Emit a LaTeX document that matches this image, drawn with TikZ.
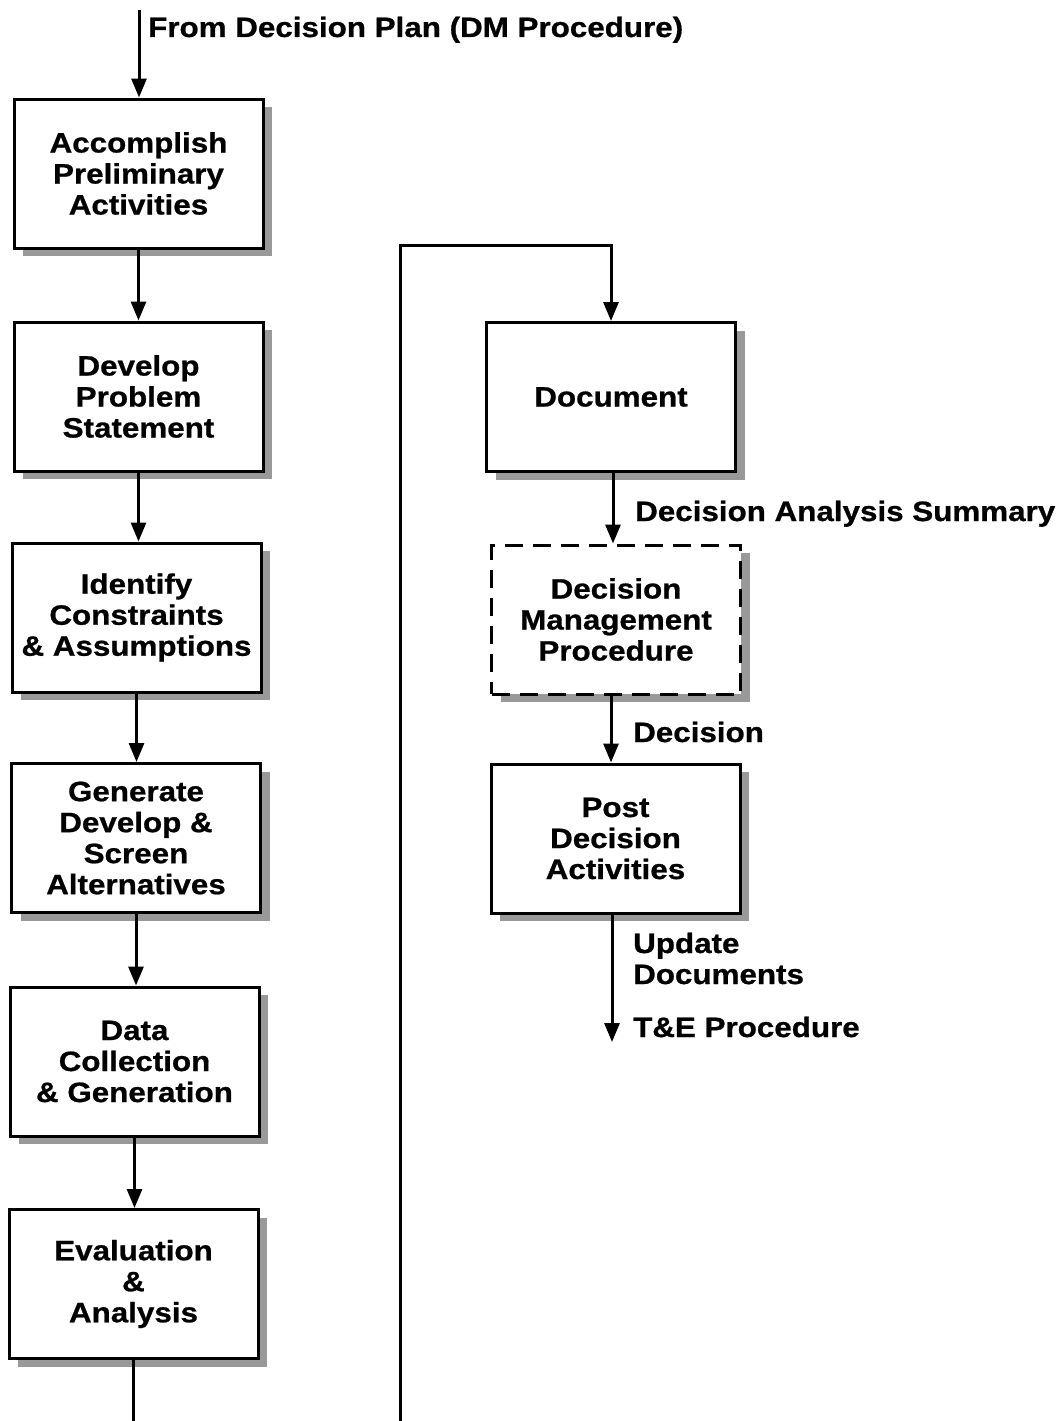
\documentclass[tikz,border=0pt]{standalone}
\usepackage{fontspec}
\setmainfont{Liberation Sans}[FakeStretch=1.12,FakeBold=0.8]
\usetikzlibrary{arrows.meta,shadows}
\begin{document}
\begin{tikzpicture}[x=1pt,y=-1pt,
  every node/.style={font=\fontsize{28}{31}\selectfont\bfseries},
  stepbox/.style={draw,line width=3pt,fill=white,align=center,inner sep=0pt,
    minimum width=249pt,minimum height=149pt,
    general shadow={shadow xshift=9pt,shadow yshift=-8pt,fill=black!40}},
  dashbox/.style={stepbox,dash pattern=on 18pt off 10pt},
  flow/.style={line width=3pt,-{Triangle[length=19pt,width=15pt]}},
  plain/.style={line width=3pt},
  lbl/.style={anchor=base west,inner sep=0pt,align=left}]
\useasboundingbox (0,0) rectangle (1060,1421);

% left column
\node[stepbox] (acc) at (138.5,173.5) {Accomplish\\Preliminary\\Activities};
\node[stepbox] (dps) at (138.5,396.5) {Develop\\Problem\\Statement};
\node[stepbox] (ica) at (136.5,617.5) {Identify\\Constraints\\\& Assumptions};
\node[stepbox] (gen) at (136,838) {Generate\\Develop \&\\Screen\\Alternatives};
\node[stepbox] (dcg) at (134.5,1061.5) {Data\\Collection\\\& Generation};
\node[stepbox] (eva) at (133.5,1284) {Evaluation\\\&\\Analysis};

% right column
\node[stepbox] (doc) at (611,397) {Document};
\node[dashbox] (dmp) at (616,619.5) {Decision\\Management\\Procedure};
\node[stepbox] (pda) at (615.5,838.5) {Post\\Decision\\Activities};

% free ends
\coordinate (src) at (139,10);
\coordinate (ebot) at (134,1421);
\coordinate (lbot) at (400,1421);
\coordinate (ltop) at (400,245);
\coordinate (tend) at (612,1042);

% connectors
\draw[flow] (src) -- (acc.north -| src);
\draw[flow] (acc.south) -- (acc.south |- dps.north);
\draw[flow] (dps.south) -- (dps.south |- ica.north);
\draw[flow] (ica.south) -- (ica.south |- gen.north);
\draw[flow] (gen.south) -- (gen.south |- dcg.north);
\draw[flow] (dcg.south) -- (dcg.south |- eva.north);
\draw[plain] (eva.south) -- (eva.south |- ebot);
\draw[flow] (lbot) -- (ltop) -| (doc.north);
\draw[flow] (doc.south -| 613,0) -- (dmp.north -| 613,0);
\draw[flow] (dmp.south -| 611,0) -- (pda.north -| 611,0);
\draw[flow] (pda.south -| tend) -- (tend);

% labels
\node[lbl] (from) at (148,37) {From Decision Plan (DM Procedure)};
\node[lbl] (das) at (635,521) {Decision Analysis Summary};
\node[lbl] (dec) at (633,742) {Decision};
\node[lbl] (upd) at (633,984) {Update\\Documents};
\node[lbl] (tep) at (633,1037) {T\&E Procedure};
\end{tikzpicture}
\end{document}
